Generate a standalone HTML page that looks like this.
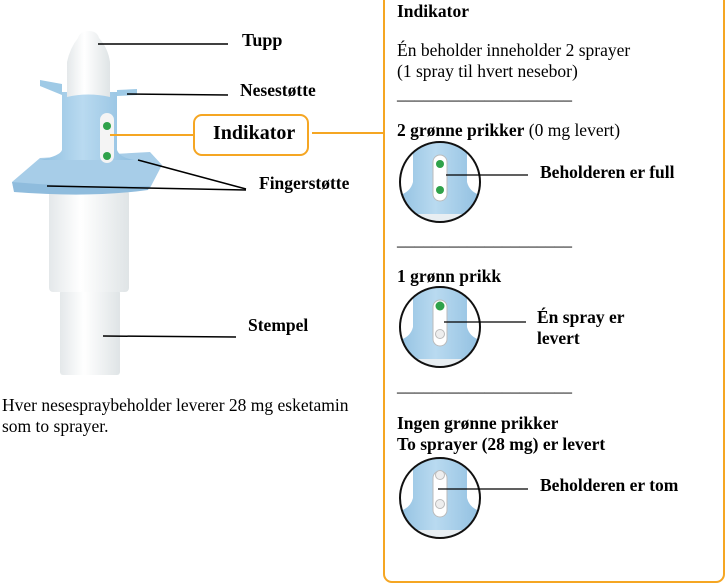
<!DOCTYPE html>
<html><head><meta charset="utf-8"><style>
body{margin:0;width:728px;height:586px;background:#fff;overflow:hidden;position:relative;font-family:"Liberation Serif",serif;}
.t{position:absolute;color:#000;font-size:17.5px;white-space:nowrap;line-height:21px}
.b{font-weight:bold}
</style></head><body>
<svg width="728" height="586" style="position:absolute;left:0;top:0">
<defs>
<linearGradient id="wh" x1="0" x2="1"><stop offset="0" stop-color="#e4e8ea"/><stop offset="0.4" stop-color="#ffffff"/><stop offset="1" stop-color="#dfe4e6"/></linearGradient>
<linearGradient id="bl" x1="0" x2="1"><stop offset="0" stop-color="#8fbfe0"/><stop offset="0.45" stop-color="#b9daf0"/><stop offset="1" stop-color="#8dbddf"/></linearGradient>
<clipPath id="cc"><circle cx="0" cy="0" r="40"/></clipPath>
<g id="zoomc">
<g clip-path="url(#cc)">
<rect x="-45" y="-45" width="90" height="90" fill="#fff"/>
<path d="M-27,-45 L27,-45 L27,0 Q30,12 45,14 L45,45 L-45,45 L-45,14 Q-30,12 -27,0 Z" fill="url(#bl)"/>
<rect x="-45" y="32" width="90" height="10" fill="#e8eef2"/>
<rect x="-7" y="-27" width="14" height="46" rx="7" fill="#fff" stroke="#bbb" stroke-width="1"/>
</g>
<circle cx="0" cy="0" r="40" fill="none" stroke="#111" stroke-width="2"/>
</g>
</defs>
<rect x="60" y="290" width="60" height="85" rx="3" fill="url(#wh)"/>
<rect x="49" y="190" width="80" height="102" rx="4" fill="url(#wh)"/>
<path d="M12,182 L40,158 L150,152 L162,165 L150,188 Q100,198 14,190 Z" fill="#a7cde8"/>
<path d="M12,182 Q80,188 150,186 L148,190 Q90,198 14,192 Z" fill="#8fbcdd"/>
<path d="M62,92 L117,92 L117,150 Q120,158 135,160 L40,160 Q60,156 62,150 Z" fill="url(#bl)"/>
<path d="M40,80 L62,84 L62,95 L40,86 Z M117,90 L137,89 L137,95 L117,96 Z" fill="#9fcae6"/>
<path d="M67,97 L67,62 Q70,48 78,38 Q80,31 89,31 Q97,31 99,38 Q108,48 110,62 L110,97 Q88,92 67,97 Z" fill="url(#wh)"/>
<rect x="100" y="113" width="14" height="50" rx="7" fill="#f4f4f4"/>
<circle cx="107" cy="126" r="4" fill="#2fa24a"/><circle cx="107" cy="156" r="4" fill="#2fa24a"/>
<g stroke="#000" stroke-width="1.5">
<line x1="98" y1="44" x2="228" y2="44"/>
<line x1="127" y1="94" x2="228" y2="95"/>
<line x1="138" y1="160" x2="246" y2="189"/>
<line x1="47" y1="186" x2="246" y2="190"/>
<line x1="103" y1="336" x2="236" y2="337"/>
</g>
<g stroke="#f5a623" stroke-width="2" fill="none">
<line x1="110" y1="135" x2="194" y2="135"/>
<rect x="194" y="115" width="114" height="40" rx="8"/>
<line x1="312" y1="133" x2="384" y2="133"/>
<rect x="384" y="-10" width="340" height="592" rx="8"/>
</g>
<use href="#zoomc" x="440" y="182"/>
<circle cx="440" cy="164" r="4" fill="#2fa24a"/><circle cx="440" cy="190" r="4" fill="#2fa24a"/>
<use href="#zoomc" x="440" y="327"/>
<circle cx="440" cy="306" r="4.5" fill="#2fa24a"/><circle cx="440" cy="334" r="4.5" fill="#eee" stroke="#bbb"/>
<use href="#zoomc" x="440" y="498"/>
<circle cx="440" cy="475" r="4.5" fill="#eee" stroke="#bbb"/><circle cx="440" cy="504" r="4.5" fill="#eee" stroke="#bbb"/>
<g stroke="#000" stroke-width="1.3">
<line x1="446" y1="175" x2="528" y2="175"/>
<line x1="444" y1="322" x2="526" y2="322"/>
<line x1="438" y1="489" x2="528" y2="489"/>
</g>
</svg>
<div class="t b" style="left:242px;top:30px;font-size:18px">Tupp</div>
<div class="t b" style="left:240px;top:80px">Nesestøtte</div>
<div class="t b" style="left:213px;top:123px;font-size:20px">Indikator</div>
<div class="t b" style="left:259px;top:173px">Fingerstøtte</div>
<div class="t b" style="left:248px;top:315px">Stempel</div>
<div class="t" style="left:2px;top:395px">Hver nesespraybeholder leverer 28 mg esketamin<br>som to sprayer.</div>
<div class="t b" style="left:397px;top:1px">Indikator</div>
<div class="t" style="left:397px;top:40px">Én beholder inneholder 2 sprayer<br>(1 spray til hvert nesebor)</div>
<div class="t" style="left:397px;top:83px">____________________</div>
<div class="t" style="left:397px;top:120px"><b>2 grønne prikker</b> (0 mg levert)</div>
<div class="t b" style="left:540px;top:162px">Beholderen er full</div>
<div class="t" style="left:397px;top:229px">____________________</div>
<div class="t b" style="left:397px;top:266px">1 grønn prikk</div>
<div class="t b" style="left:537px;top:307px">Én spray er<br>levert</div>
<div class="t" style="left:397px;top:375px">____________________</div>
<div class="t b" style="left:397px;top:413px">Ingen grønne prikker<br>To sprayer (28 mg) er levert</div>
<div class="t b" style="left:540px;top:475px">Beholderen er tom</div>
</body></html>
